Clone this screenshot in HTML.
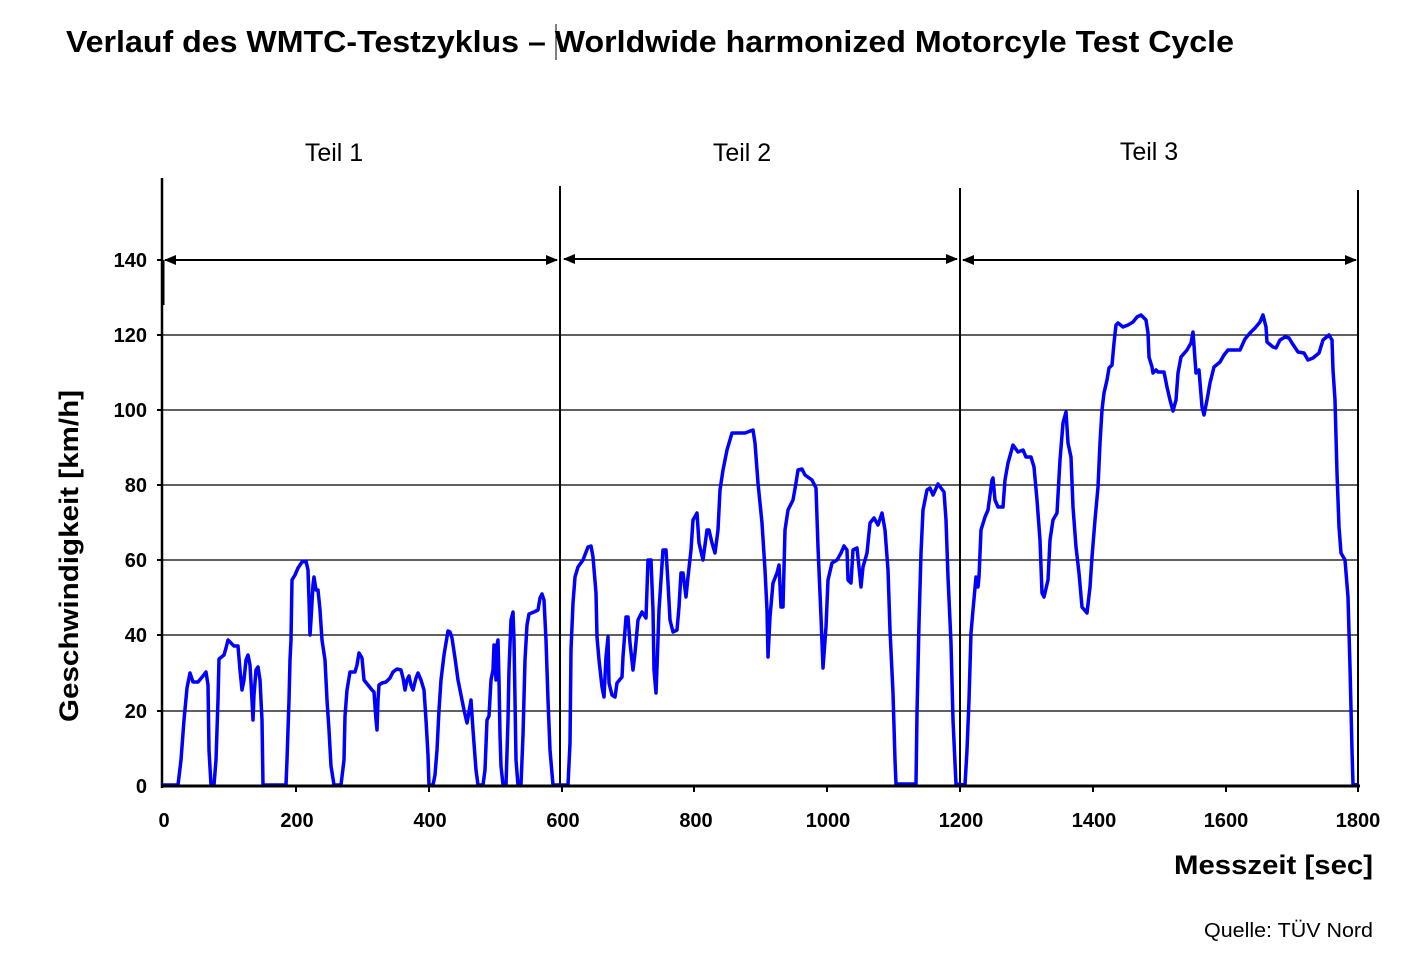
<!DOCTYPE html>
<html><head><meta charset="utf-8"><style>html,body{margin:0;padding:0;background:#fff}svg{display:block}</style></head><body>
<svg width="1413" height="955" viewBox="0 0 1413 955" xmlns="http://www.w3.org/2000/svg" font-family="Liberation Sans, sans-serif">
<defs><marker id="ah" markerWidth="12" markerHeight="10" refX="11" refY="5" orient="auto-start-reverse" markerUnits="userSpaceOnUse"><path d="M0,0 L12,5 L0,10 Z" fill="#000"/></marker></defs>
<text x="66" y="52" font-size="31" font-weight="bold" textLength="1168" lengthAdjust="spacingAndGlyphs">Verlauf des WMTC-Testzyklus – Worldwide harmonized Motorcyle Test Cycle</text>
<line x1="556" y1="24" x2="556" y2="60" stroke="#000" stroke-width="1"/>
<g font-size="25" text-anchor="middle"><text x="334" y="161">Teil 1</text><text x="742" y="161">Teil 2</text><text x="1149" y="160">Teil 3</text></g>
<g stroke="#000" stroke-width="1.2">
<line x1="163" y1="335" x2="1358" y2="335"/><line x1="163" y1="410" x2="1358" y2="410"/><line x1="163" y1="485" x2="1358" y2="485"/><line x1="163" y1="560" x2="1358" y2="560"/><line x1="163" y1="635" x2="1358" y2="635"/><line x1="163" y1="711" x2="1358" y2="711"/>
</g>
<g stroke="#000" stroke-width="2">
<line x1="560" y1="186" x2="560" y2="786"/><line x1="960" y1="188" x2="960" y2="786"/><line x1="1358" y1="190" x2="1358" y2="786"/>
<line x1="165" y1="260" x2="557" y2="260" marker-start="url(#ah)" marker-end="url(#ah)"/>
<line x1="564" y1="259" x2="957" y2="259" marker-start="url(#ah)" marker-end="url(#ah)"/>
<line x1="963" y1="260" x2="1356" y2="260" marker-start="url(#ah)" marker-end="url(#ah)"/>
</g>
<line x1="162" y1="178" x2="162" y2="788" stroke="#000" stroke-width="2.5"/>
<line x1="163" y1="260" x2="163" y2="305" stroke="#000" stroke-width="3"/>
<g stroke="#000" stroke-width="2"><line x1="157" y1="260" x2="162" y2="260"/><line x1="157" y1="335" x2="162" y2="335"/><line x1="157" y1="410" x2="162" y2="410"/><line x1="157" y1="485" x2="162" y2="485"/><line x1="157" y1="560" x2="162" y2="560"/><line x1="157" y1="635" x2="162" y2="635"/><line x1="157" y1="711" x2="162" y2="711"/>
<line x1="296" y1="786" x2="296" y2="792"/><line x1="429" y1="786" x2="429" y2="792"/><line x1="562" y1="786" x2="562" y2="792"/><line x1="694" y1="786" x2="694" y2="792"/><line x1="827" y1="786" x2="827" y2="792"/><line x1="960" y1="786" x2="960" y2="792"/><line x1="1093" y1="786" x2="1093" y2="792"/><line x1="1226" y1="786" x2="1226" y2="792"/><line x1="1358" y1="786" x2="1358" y2="792"/></g>
<polyline fill="none" stroke="#0000ff" stroke-width="3.5" stroke-linejoin="round" points="163,785 178,785 181,760 184,720 187,688 190,673 193,682 198,682 203,676 206,672 208,685 209,750 211,785 214,785 216,760 218,700 219,659 224,655 226,648 228,640 231,643 234,646 238,646 240,670 242,690 244,680 246,660 248,655 250,665 252,700 253,720 254,695 256,670 258,667 260,680 262,720 263,785 286,785 287,760 289,700 290,660 291,640 292,580 295,575 298,568 302,562 306,561 308,570 309,600 310,635 311,620 313,585 314,577 316,590 318,590 320,610 322,640 325,660 327,700 329,730 331,766 334,785 341,785 344,760 345,716 347,690 350,672 355,672 357,665 359,653 362,658 364,680 368,685 372,690 374,692 376,720 377,730 378,700 379,685 382,683 386,682 390,678 393,672 397,669 401,670 403,678 405,690 407,680 409,676 411,685 413,690 416,678 418,673 421,680 424,690 426,720 428,755 429,785 433,785 435,775 437,750 439,710 441,680 444,655 448,631 450,632 452,638 455,658 458,680 461,695 464,710 467,723 469,712 471,700 473,730 476,770 478,785 483,785 485,770 487,720 489,716 491,680 493,670 494,645 495,660 496,680 497,645 498,640 499,680 500,735 501,766 503,785 506,785 508,720 509,670 511,620 513,612 514,640 515,700 516,760 518,785 521,785 523,735 525,660 527,625 529,614 534,612 538,610 540,598 542,594 544,600 546,640 548,700 550,750 553,785 568,785 570,743 571,650 573,603 575,577 578,567 583,560 588,547 591,546 593,557 596,593 597,637 599,660 602,687 604,697 606,657 608,637 609,683 612,695 615,697 617,683 622,677 623,657 626,617 628,617 630,643 633,670 635,653 638,620 642,612 646,618 648,560 651,560 653,610 654,670 656,693 657,667 659,610 661,580 663,550 666,550 668,583 670,620 673,632 677,630 679,607 681,573 683,573 686,597 688,577 691,550 693,520 697,513 699,543 703,560 707,530 709,530 712,543 715,553 718,530 720,490 723,470 727,450 732,433 737,433 745,433 753,430 755,443 758,483 762,523 765,570 767,610 768,657 770,617 773,583 777,573 779,565 781,607 783,607 785,530 788,510 793,500 796,483 798,470 802,469 805,475 812,480 816,488 818,547 821,617 823,668 826,627 828,580 832,563 837,560 841,553 844,546 847,550 848,580 851,583 853,550 857,548 859,567 861,587 863,567 867,553 870,523 874,518 878,525 882,513 885,530 888,570 890,630 893,693 895,760 896,784 916,784 917,713 919,623 921,553 923,510 927,490 930,488 933,495 938,484 944,492 946,520 948,577 951,643 953,720 955,763 956,784 965,785 967,750 969,700 971,633 973,610 976,577 978,587 979,577 981,530 985,517 988,510 992,480 993,478 995,500 998,507 1003,507 1005,480 1008,463 1013,445 1018,452 1023,450 1026,457 1031,457 1034,467 1037,500 1040,540 1042,593 1044,597 1048,580 1050,540 1053,520 1057,513 1060,460 1063,423 1066,412 1068,443 1071,457 1073,507 1076,547 1079,573 1082,607 1087,613 1090,587 1092,557 1095,520 1098,487 1100,443 1102,410 1104,393 1107,380 1109,368 1112,365 1114,343 1116,325 1118,323 1123,327 1128,325 1133,322 1137,317 1141,315 1146,320 1148,333 1149,357 1152,367 1153,373 1156,370 1158,372 1164,372 1167,387 1170,400 1173,411 1176,400 1178,373 1181,357 1187,350 1191,343 1193,332 1196,373 1199,370 1202,407 1204,415 1207,400 1210,383 1214,367 1220,362 1224,355 1228,350 1240,350 1245,339 1250,333 1255,328 1260,322 1263,315 1266,327 1267,342 1273,347 1276,348 1280,340 1285,337 1289,338 1292,343 1298,352 1304,353 1308,360 1313,358 1319,353 1323,340 1329,335 1332,340 1333,370 1335,400 1337,473 1339,527 1341,553 1345,560 1348,597 1350,667 1352,750 1353,784 1358,785"/>
<line x1="161" y1="786" x2="1360" y2="786" stroke="#000" stroke-width="3"/>
<g font-size="20" font-weight="bold" text-anchor="end"><text x="147" y="267">140</text><text x="147" y="342">120</text><text x="147" y="417">100</text><text x="147" y="492">80</text><text x="147" y="567">60</text><text x="147" y="642">40</text><text x="147" y="718">20</text><text x="147" y="793">0</text></g>
<g font-size="20" font-weight="bold" text-anchor="middle"><text x="164" y="827">0</text><text x="297" y="827">200</text><text x="430" y="827">400</text><text x="563" y="827">600</text><text x="696" y="827">800</text><text x="828" y="827">1000</text><text x="961" y="827">1200</text><text x="1094" y="827">1400</text><text x="1226" y="827">1600</text><text x="1358" y="827">1800</text></g>
<text transform="translate(78,556) rotate(-90)" font-size="27" font-weight="bold" text-anchor="middle" textLength="332" lengthAdjust="spacingAndGlyphs">Geschwindigkeit [km/h]</text>
<text x="1174" y="874" font-size="27" font-weight="bold" textLength="199" lengthAdjust="spacingAndGlyphs">Messzeit [sec]</text>
<text x="1204" y="937" font-size="20" textLength="169" lengthAdjust="spacingAndGlyphs">Quelle: TÜV Nord</text>
</svg>
</body></html>
